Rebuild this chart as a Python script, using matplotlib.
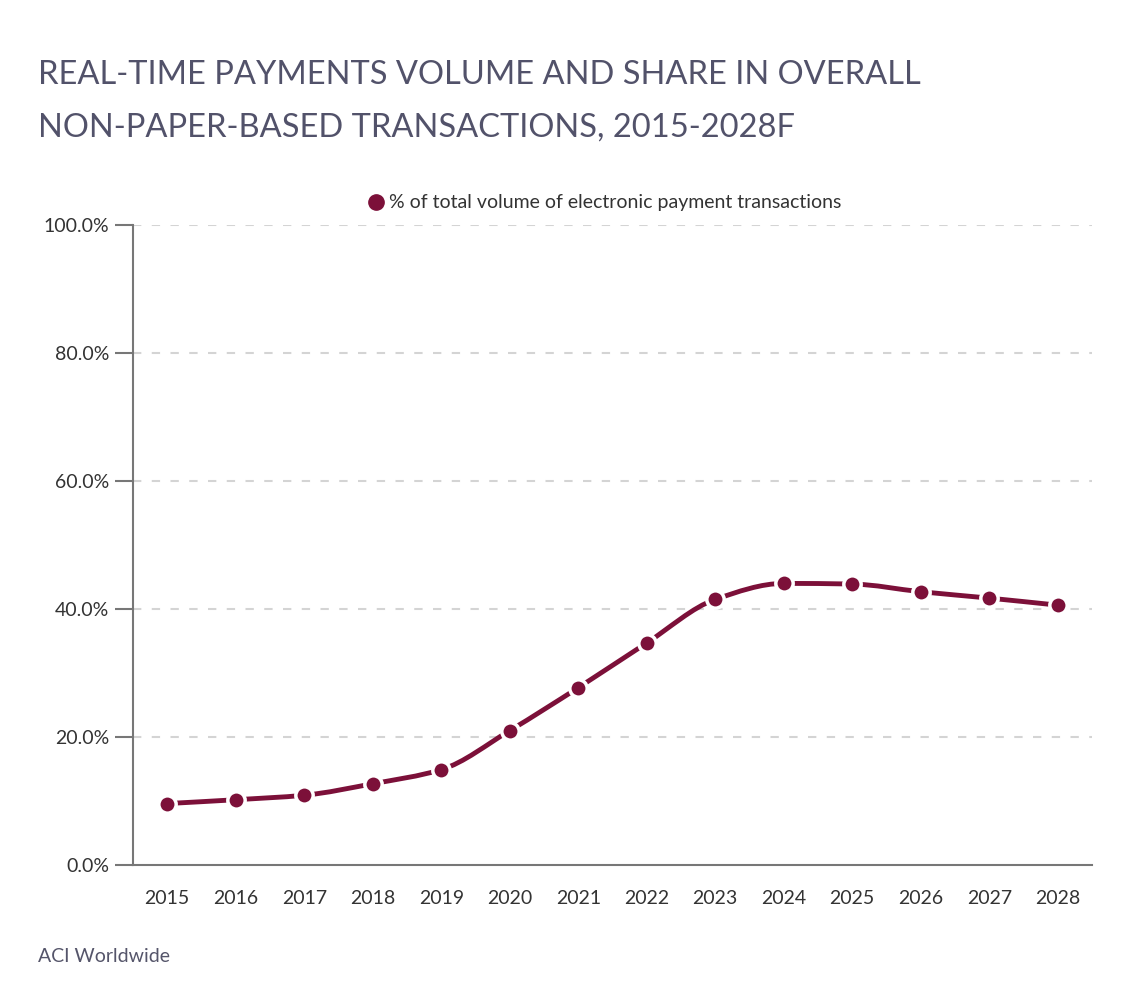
import numpy as np
import matplotlib
matplotlib.use('Agg')
from matplotlib import pyplot as plt
from matplotlib.path import Path
from matplotlib.patches import PathPatch
from matplotlib.lines import Line2D

###### Data
years = [2015, 2016, 2017, 2018, 2019, 2020, 2021, 2022, 2023, 2024, 2025, 2026, 2027, 2028]
share = [9.6, 10.2, 10.9, 12.7, 14.9, 21.0, 27.7, 34.7, 41.5, 44.0, 43.9, 42.7, 41.7, 40.6]
y_ticks = [0, 20, 40, 60, 80, 100]
series_name = '% of total volume of electronic payment transactions'
title_lines = ['REAL-TIME PAYMENTS VOLUME AND SHARE IN OVERALL',
               'NON-PAPER-BASED TRANSACTIONS, 2015-2028F']
source_text = 'ACI Worldwide'

line_color = '#7c1039'
plt.rcParams['font.family'] = ['Lato', 'DejaVu Sans']

###### Figure
fig = plt.figure(figsize=(11.26, 10), dpi=100)
ax = fig.add_axes([133/1126, 1 - 865/1000, (1092-133)/1126, (865-225)/1000])

# smooth line through points: monotone cubic as bezier path in data coords
x = np.array(years, dtype=float)
y = np.array(share, dtype=float)
d = np.diff(y) / np.diff(x)
m = np.zeros_like(y)
m[0], m[-1] = d[0], d[-1]
for i in range(1, len(y) - 1):
    if d[i-1] * d[i] <= 0:
        m[i] = 0
    else:
        m[i] = 2 / (1/d[i-1] + 1/d[i])
verts = [(x[0], y[0])]
codes = [Path.MOVETO]
for i in range(len(x) - 1):
    h = x[i+1] - x[i]
    verts += [(x[i] + h/3, y[i] + m[i]*h/3), (x[i+1] - h/3, y[i+1] - m[i+1]*h/3), (x[i+1], y[i+1])]
    codes += [Path.CURVE4] * 3
ax.add_patch(PathPatch(Path(verts, codes), facecolor='none', edgecolor=line_color, lw=3.5,
                       capstyle='round', zorder=3))
ax.plot(years, share, 'o', color=line_color, ms=12.5, mec='white', mew=2.5, zorder=4)

ax.set_xlim(2014.5, 2028.5)
ax.set_ylim(0, 100)
ax.set_xticks(years)
ax.set_xticklabels([str(v) for v in years], fontsize=14, color='#333333')
ax.set_yticks(y_ticks)
ax.set_yticklabels(['%.1f%%' % v for v in y_ticks], fontsize=14, color='#333333')
ax.tick_params(axis='x', length=0, pad=18)
ax.tick_params(axis='y', length=13, width=1.5, color='#777777', pad=4)
for v in y_ticks[1:]:
    ax.axhline(v, color='#d4d4d4', lw=1.5, ls=(0, (4, 5)), zorder=1)
for s in ['top', 'right']:
    ax.spines[s].set_visible(False)
for s in ['left', 'bottom']:
    ax.spines[s].set_color('#777777')
    ax.spines[s].set_linewidth(1.5)

# legend
handle = Line2D([], [], marker='o', ls='none', color=line_color, ms=11)
ax.legend([handle], [series_name], loc='lower center', bbox_to_anchor=(0.486, 1.0), frameon=False,
          fontsize=14, handletextpad=-0.3, borderaxespad=0.3, labelcolor='#333333')

fig.text(38/1126, 1 - 75/1000, title_lines[0], fontsize=23.5, color='#52526a', va='center')
fig.text(38/1126, 1 - 128/1000, title_lines[1], fontsize=23.5, color='#52526a', va='center')
fig.text(38/1126, 1 - 957/1000, source_text, fontsize=14, color='#55556a', va='center')

fig.savefig('out.png', dpi=100, facecolor='white')
